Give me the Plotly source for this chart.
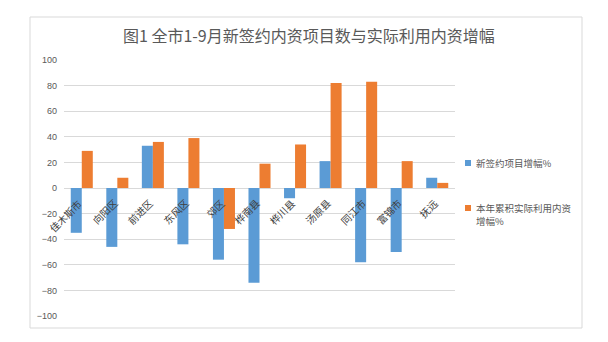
import plotly.graph_objects as go

# Counties/districts and their growth rates (%)
regions = ["佳木斯市", "向阳区", "前进区", "东风区", "郊区", "桦南县",
           "桦川县", "汤原县", "同江市", "富锦市", "抚远"]
new_projects_growth = [-35, -46, 33, -44, -56, -74, -8, 21, -58, -50, 8]
actual_use_growth = [29, 8, 36, 39, -32, 19, 34, 82, 83, 21, 4]

# legend labels, one list entry per text line
series_names = [["新签约项目增幅%"], ["本年累积实际利用内资", "增幅%"]]
series_colors = ["#5B9BD5", "#ED7D31"]
y_ticks = list(range(-100, 101, 20))

title_text = "图1 全市1-9月新签约内资项目数与实际利用内资增幅"
cjk = "Noto Sans CJK SC"

# plot area in pixels
L, R, T, B = 64, 455, 60, 316
W, H = R - L, B - T


def px(v):
    return (v - L) / W


def py(v):
    return (B - v) / H


fig = go.Figure()
for lines, vals, col in zip(series_names, [new_projects_growth, actual_use_growth],
                            series_colors):
    fig.add_trace(go.Bar(x=regions, y=vals, name="".join(lines), marker_color=col,
                         marker_line_width=0, showlegend=False))

# category labels hanging just below the zero line
for r in regions:
    fig.add_annotation(x=r, y=0, xref="x", yref="y", text=r, showarrow=False,
                       textangle=-45, xanchor="right", yanchor="top",
                       xshift=6, yshift=-5,
                       font=dict(family=cjk, size=10, color="#404040"))

# legend: small square swatch + text lines
legend_rows = [163, 208]
line_step = 13
shapes = []
for lines, col, yc in zip(series_names, series_colors, legend_rows):
    shapes.append(dict(type="rect", xref="paper", yref="paper",
                       x0=px(465), x1=px(471), y0=py(yc + 3), y1=py(yc - 3),
                       fillcolor=col, line=dict(width=0)))
    for k, txt in enumerate(lines):
        fig.add_annotation(x=px(474), y=py(yc + k * line_step), xref="paper",
                           yref="paper", text=txt, showarrow=False,
                           xanchor="left", yanchor="middle",
                           font=dict(family=cjk, size=9.5, color="#595959"))

# outer chart border
shapes.append(dict(type="rect", xref="paper", yref="paper",
                   x0=px(30), x1=px(582), y0=py(328), y1=py(17),
                   line=dict(color="#D9D9D9", width=1),
                   fillcolor="rgba(0,0,0,0)", layer="below"))

fig.update_layout(
    width=608, height=342,
    margin=dict(l=L, r=608 - R, t=T, b=342 - B),
    paper_bgcolor="white", plot_bgcolor="white",
    barmode="group", bargap=0.38, bargroupgap=0,
    showlegend=False,
    title=dict(text=title_text, x=0.508, xanchor="center", y=0.895, yanchor="middle",
               font=dict(family=cjk, size=16, color="#595959")),
    shapes=shapes,
)
fig.update_xaxes(range=[-0.5, len(regions) - 0.5], showticklabels=False,
                 showgrid=False, showline=False, ticks="")
fig.update_yaxes(range=[-100, 100], tickvals=y_ticks, showgrid=True,
                 gridcolor="#D9D9D9", gridwidth=1, zeroline=True,
                 zerolinecolor="#D9D9D9", zerolinewidth=1, showline=False,
                 ticks="", ticklabelstandoff=6,
                 tickfont=dict(family="Liberation Sans", size=9, color="#595959"))

fig.write_html("out.html")
